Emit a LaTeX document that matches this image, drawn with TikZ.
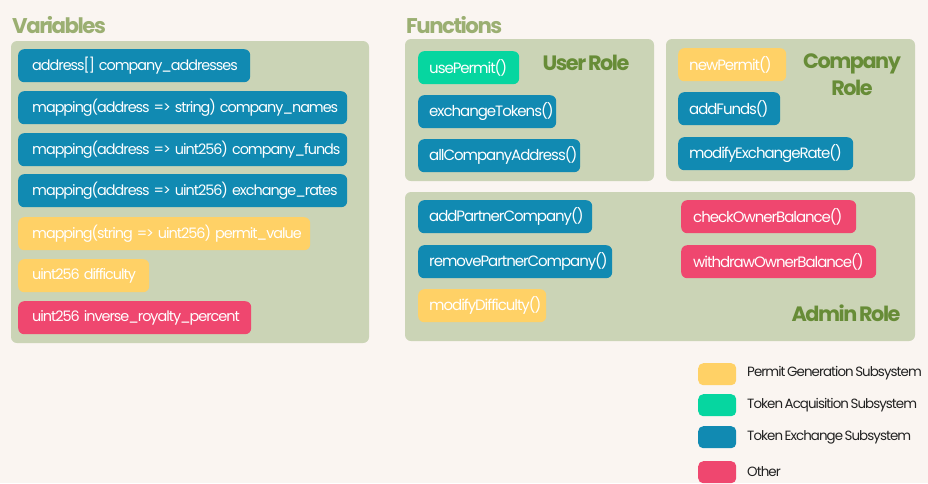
\documentclass[tikz,border=0pt]{standalone}
\usepackage{fontspec}
\setmainfont{Poppins}[LetterSpace=-7,WordSpace=0.6]
\definecolor{bgc}{HTML}{FAF5F1}
\definecolor{panelc}{HTML}{CBD4B6}
\definecolor{cblue}{HTML}{118AB2}
\definecolor{cgreen}{HTML}{06D6A0}
\definecolor{cyellow}{HTML}{FFD166}
\definecolor{cpink}{HTML}{EF476F}
\definecolor{ctitle}{HTML}{9BAF72}
\definecolor{crole}{HTML}{678C37}
\definecolor{clegend}{HTML}{222222}
\newcommand\nb[1]{\mbox{\spaceskip=4pt\relax #1}}
\begin{document}
\begin{tikzpicture}[x=1pt,y=-1pt,
  panel/.style={fill=panelc, rounded corners=6pt},
  vitem/.style={rounded corners=6pt, anchor=north west, minimum height=33pt, inner xsep=14pt, inner ysep=0pt, text=white, font=\fontsize{14.4}{17}\selectfont, align=left},
  fitem/.style={rounded corners=6pt, anchor=north west, minimum height=33pt, inner xsep=11pt, inner ysep=0pt, text=white, font=\fontsize{15}{17}\selectfont, align=left},
  title/.style={anchor=base west, inner sep=0pt, text=ctitle, font=\fontsize{21.3}{24}\selectfont\bfseries},
  role/.style={inner sep=0pt, text=crole, font=\fontsize{20.8}{27}\selectfont\bfseries, align=center},
  swatch/.style={rounded corners=5pt, minimum width=38pt, minimum height=22pt, inner sep=0pt, anchor=north west},
  legtext/.style={anchor=west, inner sep=0pt, text=clegend, font=\fontsize{13.4}{15}\selectfont}
]
\fill[bgc] (0,0) rectangle (928,483);
\useasboundingbox (0,0) rectangle (928,483);

% titles
\node[title] (tvar) at (12,33) {Variables};
\node[title] (tfun) at (406,33) {Functions};

% panels
\fill[panel] (11,41) rectangle (369,343);
\fill[panel] (405,39) rectangle (654,181);
\fill[panel] (666,39) rectangle (915,181);
\fill[panel] (405,192) rectangle (915,341);

% variables
\node[vitem, fill=cblue, text width=204pt] (v1) at (18,49) {\nb{address[] company\_addresses}};
\node[vitem, fill=cblue, text width=301pt] (v2) at (18,91) {\nb{mapping(address => string) company\_names}};
\node[vitem, fill=cblue, text width=301pt] (v3) at (18,133) {\nb{mapping(address => uint256) company\_funds}};
\node[vitem, fill=cblue, text width=301pt] (v4) at (18,174) {\nb{mapping(address => uint256) exchange\_rates}};
\node[vitem, fill=cyellow, text width=264pt] (v5) at (18,217) {\nb{mapping(string => uint256) permit\_value}};
\node[vitem, fill=cyellow, text width=103pt] (v6) at (18,259) {\nb{uint256 difficulty}};
\node[vitem, fill=cpink, text width=205pt] (v7) at (18,301) {\nb{uint256 inverse\_royalty\_percent}};

% user role
\node[fitem, fill=cgreen, text width=79pt] (f1) at (418,51) {\nb{usePermit()}};
\node[fitem, fill=cblue, text width=116pt] (f2) at (418,95) {\nb{exchangeTokens()}};
\node[fitem, fill=cblue, text width=140pt] (f3) at (418,139) {\nb{allCompanyAddress()}};
\node[role] (rUser) at (586,63) {User Role};

% company role
\node[fitem, fill=cyellow, text width=86pt] (c1) at (678,48) {\nb{newPermit()}};
\node[fitem, fill=cblue, text width=80pt] (c2) at (678,92) {\nb{addFunds()}};
\node[fitem, fill=cblue, text width=153pt] (c3) at (678,137) {\nb{modifyExchangeRate()}};
\node[role] (rComp) at (852,75) {Company\\Role};

% admin role
\node[fitem, fill=cblue, text width=152pt] (a1) at (418,200) {\nb{addPartnerCompany()}};
\node[fitem, fill=cblue, text width=172pt] (a2) at (418,245) {\nb{removePartnerCompany()}};
\node[fitem, fill=cyellow, text width=106pt] (a3) at (418,289) {\nb{modifyDifficulty()}};
\node[fitem, fill=cpink, text width=151pt, inner xsep=12pt] (a4) at (681,200) {\nb{checkOwnerBalance()}};
\node[fitem, fill=cpink, text width=171pt, inner xsep=12pt] (a5) at (681,245) {\nb{withdrawOwnerBalance()}};
\node[role] (rAdmin) at (846,313) {Admin Role};

% legend
\node[swatch, fill=cyellow] (l1) at (698,363) {};
\node[swatch, fill=cgreen] (l2) at (698,394) {};
\node[swatch, fill=cblue] (l3) at (698,426) {};
\node[swatch, fill=cpink] (l4) at (698,461) {};
\node[legtext] (t1) at (747,373) {Permit Generation Subsystem};
\node[legtext] (t2) at (747,405) {Token Acquisition Subsystem};
\node[legtext] (t3) at (747,437) {Token Exchange Subsystem};
\node[legtext] (t4) at (747,472) {Other};
\end{tikzpicture}
\end{document}
